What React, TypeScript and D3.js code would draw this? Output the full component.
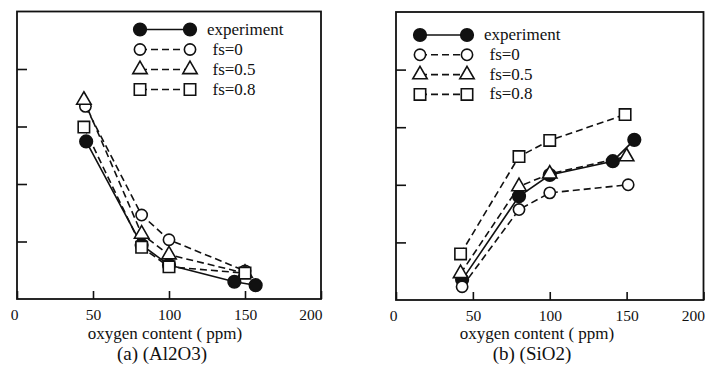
import React, { useEffect, useRef } from 'react';
import * as d3 from 'd3';

// series order: experiment, fs=0, fs=0.5, fs=0.8
const seriesNames = ['experiment', 'fs=0', 'fs=0.5', 'fs=0.8'];
const xTicks = [0, 50, 100, 150, 200];
const yTicks = [1, 2, 3, 4];

// (a) Al2O3
const alExpX = [45.5, 82, 100, 143, 157];
const alExpY = [2.74, 0.94, 0.59, 0.3, 0.24];
const alFs0X = [45, 82, 100, 150];
const alFs0Y = [3.35, 1.46, 1.03, 0.49];
const alFs05X = [44, 82, 100, 150];
const alFs05Y = [3.46, 1.13, 0.77, 0.45];
const alFs08X = [44, 82, 100, 150];
const alFs08Y = [2.99, 0.9, 0.56, 0.45];

// (b) SiO2
const siExpX = [43, 80, 100, 141, 155];
const siExpY = [0.35, 1.8, 2.17, 2.41, 2.78];
const siFs0X = [43, 80, 100, 151];
const siFs0Y = [0.23, 1.57, 1.86, 2.0];
const siFs05X = [42, 80, 100, 150];
const siFs05Y = [0.46, 1.97, 2.19, 2.49];
const siFs08X = [42, 80, 100, 149];
const siFs08Y = [0.8, 2.49, 2.77, 3.22];

const FONT = '"Liberation Serif", "Times New Roman", serif';

type Panel = {
    left: number;
    right: number;
    top: number;
    bottom: number;
    series: [number[], number[]][];
    caption: string;
    xLabelX: number;
    captionX: number;
    legX1: number;
    legX2: number;
    legTextX: number;
    legY0: number;
    legStep: number;
};

const panels: Panel[] = [
    {
        left: 17, right: 321, top: 11.5, bottom: 299,
        series: [[alExpX, alExpY], [alFs0X, alFs0Y], [alFs05X, alFs05Y], [alFs08X, alFs08Y]],
        caption: '(a) (Al2O3)', xLabelX: 165, captionX: 162,
        legX1: 140, legX2: 190, legTextX: 207, legY0: 29.5, legStep: 20,
    },
    {
        left: 396, right: 703.5, top: 12, bottom: 300,
        series: [[siExpX, siExpY], [siFs0X, siFs0Y], [siFs05X, siFs05Y], [siFs08X, siFs08Y]],
        caption: '(b) (SiO2)', xLabelX: 537, captionX: 532,
        legX1: 420, legX2: 467, legTextX: 484, legY0: 35, legStep: 19.8,
    },
];

const symbols = [d3.symbolCircle, d3.symbolCircle, d3.symbolTriangle, d3.symbolSquare];
const symbolSizes = [125, 100, 90, 130];

const App: React.FC = () => {
    const ref = useRef<SVGSVGElement>(null);

    useEffect(() => {
        if (!ref.current) return;
        const svg = d3.select(ref.current);
        svg.selectAll('*').remove();

        panels.forEach((p) => {
            const g = svg.append('g');
            const x = d3.scaleLinear().domain([0, 200]).range([p.left, p.right]);
            const y = d3.scaleLinear().domain([0, 5]).range([p.bottom, p.top]);

            // frame
            g.append('rect')
                .attr('x', p.left)
                .attr('y', p.top)
                .attr('width', p.right - p.left)
                .attr('height', p.bottom - p.top)
                .attr('fill', 'none')
                .attr('stroke', '#111')
                .attr('stroke-width', 1.8);

            const xAxis = g.append('g')
                .attr('transform', `translate(0,${p.bottom})`)
                .call(d3.axisBottom(x).tickValues(xTicks).tickSize(-8).tickPadding(10).tickFormat(d3.format('d')));
            xAxis.select('.domain').remove();
            xAxis.selectAll('line').attr('stroke', '#111').attr('stroke-width', 1.6);
            xAxis.selectAll('text')
                .attr('font-family', FONT)
                .attr('font-size', 15.5)
                .attr('fill', '#111')
                .attr('text-anchor', (d) => ((d as number) === 200 ? 'end' : 'middle'))
                .attr('dx', (d) => ((d as number) === 200 ? 1 : (d as number) === 0 ? -3 : 0));

            const yAxis = g.append('g')
                .attr('transform', `translate(${p.left},0)`)
                .call(d3.axisLeft(y).tickValues(yTicks).tickSize(-10).tickFormat(() => ''));
            yAxis.select('.domain').remove();
            yAxis.selectAll('line').attr('stroke', '#111').attr('stroke-width', 1.6);

            const line = d3.line<[number, number]>().x((d) => x(d[0])).y((d) => y(d[1]));

            p.series.forEach(([xs, ys], i) => {
                const pts = xs.map((v, k) => [v, ys[k]] as [number, number]);
                g.append('path')
                    .attr('d', line(pts))
                    .attr('fill', 'none')
                    .attr('stroke', '#111')
                    .attr('stroke-width', 1.6)
                    .attr('stroke-dasharray', i === 0 ? null : '7,4');
            });
            p.series.forEach(([xs, ys], i) => {
                const sym = d3.symbol().type(symbols[i]).size(symbolSizes[i]);
                xs.forEach((v, k) => {
                    g.append('path')
                        .attr('d', sym())
                        .attr('transform', `translate(${x(v)},${y(ys[k])})`)
                        .attr('fill', i === 0 ? '#111' : '#fff')
                        .attr('stroke', '#111')
                        .attr('stroke-width', 1.6);
                });
            });

            // legend
            seriesNames.forEach((name, i) => {
                const ly = p.legY0 + i * p.legStep;
                g.append('line')
                    .attr('x1', p.legX1).attr('x2', p.legX2)
                    .attr('y1', ly).attr('y2', ly)
                    .attr('stroke', '#111')
                    .attr('stroke-width', 1.6)
                    .attr('stroke-dasharray', i === 0 ? null : '7,4');
                const sym = d3.symbol().type(symbols[i]).size(symbolSizes[i]);
                [p.legX1, p.legX2].forEach((lx) => {
                    g.append('path')
                        .attr('d', sym())
                        .attr('transform', `translate(${lx},${ly})`)
                        .attr('fill', i === 0 ? '#111' : '#fff')
                        .attr('stroke', '#111')
                        .attr('stroke-width', 1.6);
                });
                g.append('text')
                    .attr('x', p.legTextX + (i === 0 ? 0 : 5.5))
                    .attr('y', ly + 5)
                    .attr('font-family', FONT)
                    .attr('font-size', 17)
                    .attr('fill', '#111')
                    .text(name);
            });

            g.append('text')
                .attr('x', p.xLabelX)
                .attr('y', 339)
                .attr('text-anchor', 'middle')
                .attr('font-family', FONT)
                .attr('font-size', 17)
                .attr('fill', '#111')
                .text('oxygen content ( ppm)');
            g.append('text')
                .attr('x', p.captionX)
                .attr('y', 360)
                .attr('text-anchor', 'middle')
                .attr('font-family', FONT)
                .attr('font-size', 19)
                .attr('fill', '#111')
                .text(p.caption);
        });
    }, []);

    return (
        <div style={{ position: 'fixed', left: 0, top: 0, background: '#fff' }}>
            <svg ref={ref} width={705} height={370} style={{ display: 'block' }} />
        </div>
    );
};

export default App;
